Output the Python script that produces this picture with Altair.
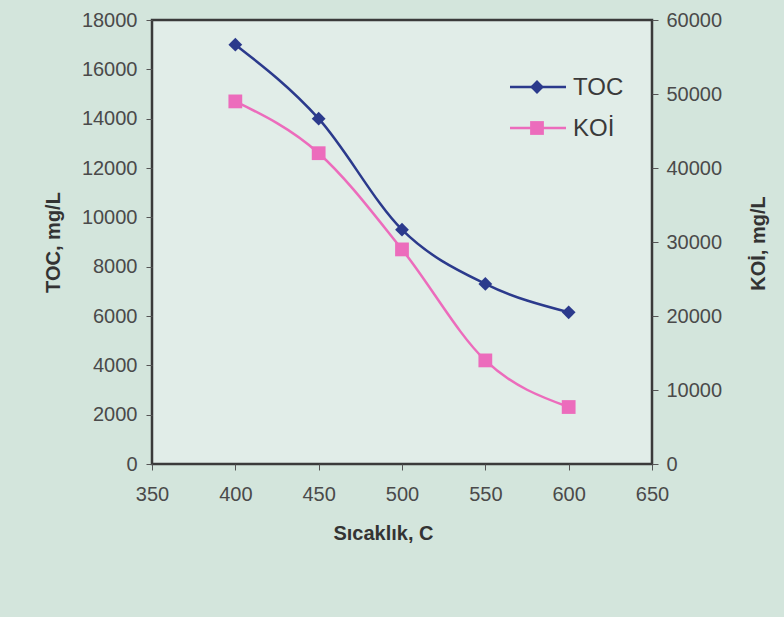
import altair as alt
import pandas as pd

temps = [400, 450, 500, 550, 600]
toc = [17000, 14000, 9500, 7300, 6150]
koi = [49000, 42000, 29000, 14000, 7700]
series = ["TOC", "KOİ"]
colors = ["#2b3a8c", "#ec6cbc"]
shapes = ["diamond", "square"]

x_ticks = [350, 400, 450, 500, 550, 600, 650]
toc_ticks = [0, 2000, 4000, 6000, 8000, 10000, 12000, 14000, 16000, 18000]
koi_ticks = [0, 10000, 20000, 30000, 40000, 50000, 60000]

FONT = "Liberation Sans"
LABEL_COLOR = "#4a4a4a"
TITLE_COLOR = "#333333"

df_toc = pd.DataFrame({"T": temps, "v": toc, "s": series[0]})
df_koi = pd.DataFrame({"T": temps, "v": koi, "s": series[1]})

common = dict(
    grid=False, domain=False, tickSize=6, tickColor="#555",
    labelFontSize=20, titleFontSize=20, labelColor=LABEL_COLOR,
    titleColor=TITLE_COLOR, labelFont=FONT, titleFont=FONT,
    labelFlush=False, labelOverlap=False, format="d",
)

x_enc = alt.X(
    "T:Q",
    scale=alt.Scale(domain=[350, 650], nice=False, zero=False),
    axis=alt.Axis(values=x_ticks, title="Sıcaklık, C", labelPadding=14,
                  titlePadding=19, titleX=231, titleAlign="center", **common),
)

y_left = alt.Y(
    "v:Q",
    scale=alt.Scale(domain=[0, 18000], nice=False),
    axis=alt.Axis(values=toc_ticks, title="TOC, mg/L", orient="left",
                  labelPadding=9, titlePadding=18, **common),
)

y_right = alt.Y(
    "v:Q",
    scale=alt.Scale(domain=[0, 60000], nice=False),
    axis=alt.Axis(values=koi_ticks, title="KOİ, mg/L", orient="right",
                  labelPadding=8, titleAngle=270, titleX=106, titleY=223,
                  titleAlign="center", titleBaseline="middle", **common),
)

toc_line = alt.Chart(df_toc).mark_line(
    color=colors[0], strokeWidth=2.5, interpolate="monotone"
).encode(x=x_enc, y=y_left)
toc_pts = alt.Chart(df_toc).mark_point(
    shape=shapes[0], filled=True, color=colors[0], size=190, opacity=1
).encode(x=x_enc, y=y_left)

koi_line = alt.Chart(df_koi).mark_line(
    color=colors[1], strokeWidth=2.5, interpolate="monotone"
).encode(x=x_enc, y=y_right)
koi_pts = alt.Chart(df_koi).mark_point(
    shape=shapes[1], filled=True, color=colors[1], size=190, opacity=1
).encode(x=x_enc, y=y_right)

left = alt.layer(toc_line, toc_pts)
right = alt.layer(koi_line, koi_pts)

# manual legend (top right inside plot)
leg_layers = []
leg_y = [67, 108]
for name, col, shp, yy in zip(series, colors, shapes, leg_y):
    d = pd.DataFrame({"s": [name]})
    leg_layers.append(
        alt.Chart(d).mark_rule(color=col, strokeWidth=2.5).encode(
            x=alt.value(358), x2=alt.value(414), y=alt.value(yy)
        )
    )
    leg_layers.append(
        alt.Chart(d).mark_point(
            shape=shp, filled=True, color=col, size=190, opacity=1
        ).encode(x=alt.value(385), y=alt.value(yy))
    )
    leg_layers.append(
        alt.Chart(d).mark_text(
            align="left", baseline="middle", font=FONT, fontSize=24,
            color="#3a3a3a"
        ).encode(x=alt.value(421), y=alt.value(yy + 1), text="s:N")
    )
legend = alt.layer(*leg_layers)

chart = (
    alt.layer(left, right, legend)
    .resolve_scale(y="independent")
    .properties(
        width=500, height=444,
        autosize=alt.AutoSizeParams(type="none"),
        padding={"left": 152, "top": 20, "right": 132, "bottom": 153},
        background="#d3e5dc",
    )
    .configure_view(stroke="#3a3a3a", strokeWidth=2.5, fill="#e1ede8")
)

chart.save("out.html", embed_options={"renderer": "svg", "actions": False})
